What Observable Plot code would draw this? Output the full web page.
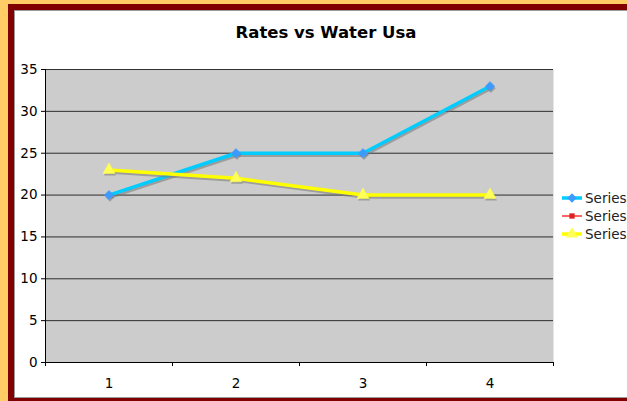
<!DOCTYPE html>
<html><head><meta charset="utf-8">
<script src="https://cdn.jsdelivr.net/npm/d3@7"></script>
<script src="https://cdn.jsdelivr.net/npm/@observablehq/plot@0.6"></script>
<style>
html,body{margin:0;padding:0;width:627px;height:401px;overflow:hidden;background:#FFCC66;position:relative;}
#frame{position:absolute;left:8px;top:4px;width:640px;height:388px;border:6px solid #800000;background:#fff;box-shadow:inset 0 0 0 1px #9a9a9a;}
#chart{position:absolute;left:0;top:0;}
#chart svg text{font-size:13.5px !important;font-family:"DejaVu Sans",sans-serif !important;}
#title{position:absolute;left:0;top:23px;width:652px;text-align:center;font:bold 16.5px "DejaVu Sans",sans-serif;color:#000;line-height:20px;}
#legend{position:absolute;left:561px;top:189px;font:13.5px "DejaVu Sans",sans-serif;color:#222;white-space:nowrap;}
#legend .item{display:flex;align-items:center;height:18px;}
#legend svg{margin-right:2px;}
</style></head>
<body>
<div id="frame"></div>
<div id="chart"></div>
<div id="title"></div>
<div id="legend"></div>
<script>
const titleText = "Rates vs Water Usa";
const categories = [1, 2, 3, 4];
const seriesNames = ["Series1", "Series2", "Series3"];
const series1 = [20, 25, 25, 33];
const series2 = [null, null, null, null];
const series3 = [23, 22, 20, 20];
const yTicks = [0, 5, 10, 15, 20, 25, 30, 35];

const seriesValues = [series1, series2, series3];
const seriesStyle = [
  {stroke: "#00CCFF", fill: "#3D9BFF", symbol: "diamond2", r: 4.2},
  {stroke: "#FF3333", fill: "#DD2222", symbol: "square", r: 3},
  {stroke: "#FFFF00", fill: "#FFFF55", symbol: "triangle", r: 4.5}
];

const rows = [];
seriesNames.forEach((name, i) => {
  categories.forEach((c, j) => {
    if (seriesValues[i][j] != null) rows.push({series: name, x: c, y: seriesValues[i][j], idx: i});
  });
});
const boundaries = [categories[0] - 0.5, ...categories.map(c => c + 0.5)];

document.getElementById("title").textContent = titleText;

const marks = [
  Plot.frame({fill: "#CCCCCC", stroke: null}),
  Plot.gridY(yTicks, {stroke: "#111", strokeOpacity: 0.85}),
  Plot.axisY({ticks: yTicks, tickSize: 4, tickPadding: 4, stroke: "#000", label: null}),
  Plot.axisX({ticks: categories, tickSize: 0, tickPadding: 16, tickFormat: d => String(d), label: null}),
  Plot.axisX({ticks: boundaries, tickSize: 4, tickFormat: () => "", stroke: "#000", label: null}),
  Plot.ruleX([boundaries[0]], {stroke: "#000"}),
  Plot.ruleY([0], {stroke: "#000"})
];
seriesNames.forEach((name, i) => {
  const d = rows.filter(r => r.idx === i);
  const s = seriesStyle[i];
  marks.push(Plot.line(d, {x: "x", y: "y", stroke: "#777", strokeOpacity: 0.55, strokeWidth: 3.5, dx: 1, dy: 2}));
  marks.push(Plot.line(d, {x: "x", y: "y", stroke: s.stroke, strokeWidth: 3.5}));
  marks.push(Plot.dot(d, {x: "x", y: "y", symbol: () => s.symbol, r: s.r, fill: "#777", fillOpacity: 0.55, dx: 1, dy: 2}));
  marks.push(Plot.dot(d, {x: "x", y: "y", symbol: () => s.symbol, r: s.r, fill: s.fill, stroke: s.fill, strokeWidth: 0.5}));
});

const chart = Plot.plot({
  width: 627, height: 401,
  marginLeft: 45, marginRight: 74, marginTop: 69, marginBottom: 39,
  style: {background: "transparent", fontFamily: "DejaVu Sans", fontSize: "13px", color: "#000"},
  x: {type: "linear", domain: [boundaries[0], boundaries[boundaries.length - 1]], label: null},
  y: {domain: [0, 35], label: null},
  symbol: {type: "identity"},
  marks
});
document.getElementById("chart").appendChild(chart);

const legend = document.getElementById("legend");
seriesNames.forEach((name, i) => {
  const s = seriesStyle[i];
  const item = document.createElement("div");
  item.className = "item";
  const svg = d3.create("svg").attr("width", 22).attr("height", 12);
  svg.append("line").attr("x1", 1).attr("x2", 21).attr("y1", 6).attr("y2", 6)
    .attr("stroke", s.stroke).attr("stroke-width", i === 1 ? 1.5 : 3.5);
  const sym = {diamond2: d3.symbolDiamond2, square: d3.symbolSquare, triangle: d3.symbolTriangle}[s.symbol];
  svg.append("path").attr("transform", "translate(11,6)")
    .attr("d", d3.symbol(sym, Math.PI * s.r * s.r)()).attr("fill", s.fill);
  item.appendChild(svg.node());
  const span = document.createElement("span");
  span.textContent = name;
  item.appendChild(span);
  legend.appendChild(item);
});
</script>
</body></html>
